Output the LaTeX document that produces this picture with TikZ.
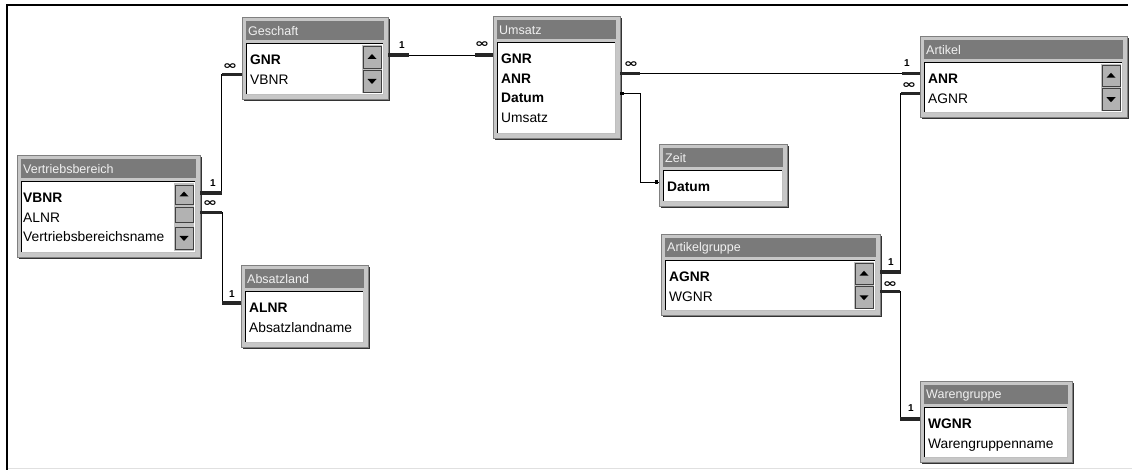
\documentclass[tikz,border=0pt]{standalone}
\usepackage{fontspec}
\usepackage{graphicx}
\setmainfont{Liberation Sans}
\newfontfamily\symfont{DejaVu Sans}
\usetikzlibrary{fit,calc}

\tikzset{
  tframe/.style={draw=black!50, fill=black!22, line width=0.8pt, inner sep=0pt},
  ttitle/.style={fill=black!52, inner sep=0pt},
  ttext/.style={text=black!6, font=\fontsize{12.5}{14}\selectfont, inner sep=0pt},
  tlist/.style={fill=white, inner sep=0pt},
  rowtxt/.style={font=\fontsize{13.8}{16}\selectfont, inner sep=0pt, anchor=base west},
  sbtrack/.style={fill=black!25, inner sep=0pt},
  sbbtn/.style={fill=black!30, draw=black!75, line width=0.8pt, inner sep=0pt},
  rel/.style={draw=black, line width=0.9pt},
  stub/.style={draw=black!85, line width=3.4pt},
  onelbl/.style={font=\fontsize{10}{11}\selectfont\bfseries, inner sep=0pt},
  manylbl/.style={font=\symfont\bfseries\fontsize{11.5}{12}\selectfont, inner sep=0pt},
  dotend/.style={fill=black, inner sep=0pt, minimum size=3.2pt},
}

% name, x0, y0, x1, y1, title
\newcommand{\dbtable}[6]{%
  \fill[black!80] ({#2+2},{#3+2}) rectangle ({#4+1.8},{#5+1.8});
  \node[tframe, fit={(#2,#3) (#4,#5)}] (#1) {};
  \node[ttitle, fit={({#2+4},{#3+4}) ({#4-4},{#3+23})}] (#1-t) {};
  \node[ttext, anchor=west] (#1-tt) at ({#2+6},{#3+14}) {#6};
  \node[tlist, fit={({#2+5},{#3+27}) ({#4-5},{#5-5})}] (#1-l) {};
  \draw[black, line width=1.3pt] (#1-l.south west) -- (#1-l.north west) -- (#1-l.north east);
  \draw[black!25, line width=0.8pt] (#1-l.north east) -- (#1-l.south east) -- (#1-l.south west);
}
% name, x0, y0, index, text
\newcommand{\dbrow}[5]{%
  \node[rowtxt] (#1) at ({#2+8},{#3+47.5+19.7*#4}) {#5};
  \coordinate (#1c) at ($(#1.base)+(0,-9.5)$);
}
% name, x1, ytop, ybot : two-button scroll bar
\newcommand{\sbtwo}[4]{%
  \node[sbtrack, fit={({#2-26},{#3+1}) ({#2-6},{#4-1})}] (#1) {};
  \node[sbbtn, fit={({#2-25},{#3+2}) ({#2-7},{(#3+#4)/2-1})}] (#1-u) {};
  \node[sbbtn, fit={({#2-25},{(#3+#4)/2+1}) ({#2-7},{#4-2})}] (#1-d) {};
  \fill ($(#1-u.center)+(-4.5,2)$) -- ++(9,0) -- ++(-4.5,-5) -- cycle;
  \fill ($(#1-d.center)+(-4.5,-2)$) -- ++(9,0) -- ++(-4.5,5) -- cycle;
}

\begin{document}
\begin{tikzpicture}[x=1pt,y=-1pt]
\useasboundingbox (0,0) rectangle (1132,470);

% window frame
\draw[black, line width=2.6pt] (7,470) -- (7,5) -- (1128,5);
\draw[black!12, line width=1pt] (8,468.5) -- (1132,468.5);

% ---------- tables ----------
\dbtable{gesch}{242}{17}{388}{99}{Geschaft}
\dbrow{g1}{242}{17}{0}{\textbf{GNR}}
\dbrow{g2}{242}{17}{1}{VBNR}
\sbtwo{gsb}{388}{44}{94}

\dbtable{vb}{17}{155}{200}{257}{Vertriebsbereich}
\dbrow{v1}{15}{155}{0}{\textbf{VBNR}}
\dbrow{v2}{15}{155}{1}{ALNR}
\dbrow{v3}{15}{155}{2}{Vertriebsbereichsname}
\node[sbtrack, fit={(174,183) (194,251)}] (vsb) {};
\node[sbbtn, fit={(175,185) (193,204)}] (vsb-u) {};
\node[sbbtn, fit={(175,207) (193,222)}] (vsb-m) {};
\node[sbbtn, fit={(175,227) (193,249)}] (vsb-d) {};
\fill ($(vsb-u.center)+(-4.5,2)$) -- ++(9,0) -- ++(-4.5,-5) -- cycle;
\fill ($(vsb-d.center)+(-4.5,-2)$) -- ++(9,0) -- ++(-4.5,5) -- cycle;

\dbtable{abs}{241}{265}{368}{347}{Absatzland}
\dbrow{a1}{241}{265}{0}{\textbf{ALNR}}
\dbrow{a2}{241}{265}{1}{Absatzlandname}

\dbtable{ums}{493}{16}{620}{138}{Umsatz}
\dbrow{u1}{493}{16}{0}{\textbf{GNR}}
\dbrow{u2}{493}{16}{1}{\textbf{ANR}}
\dbrow{u3}{493}{16}{2}{\textbf{Datum}}
\dbrow{u4}{493}{16}{3}{Umsatz}

\dbtable{zeit}{659}{144}{787}{206}{Zeit}
\dbrow{z1}{659}{144}{0}{\textbf{Datum}}

\dbtable{art}{920}{36}{1127}{117}{Artikel}
\dbrow{r1}{920}{36}{0}{\textbf{ANR}}
\dbrow{r2}{920}{36}{1}{AGNR}
\sbtwo{asb}{1127}{63}{112}

\dbtable{ag}{661}{234}{880}{315}{Artikelgruppe}
\dbrow{ag1}{661}{234}{0}{\textbf{AGNR}}
\dbrow{ag2}{661}{234}{1}{WGNR}
\sbtwo{agsb}{880}{261}{310}

\dbtable{wg}{920}{381}{1072}{462}{Warengruppe}
\dbrow{w1}{920}{381}{0}{\textbf{WGNR}}
\dbrow{w2}{920}{381}{1}{Warengruppenname}

% ---------- relationships ----------
% Geschaft -- Umsatz
\draw[rel] (gesch.east |- g1c) -- (ums.west |- g1c);
\draw[stub] (gesch.east |- g1c) -- ++(21,0);
\draw[stub] (ums.west |- g1c) -- ++(-18,0);
\node[onelbl] (lab1) at (402,45) {1};
\node[manylbl] (lab2) at (482,45) {\scalebox{1.5}[1]{∞}};

% Geschaft -- Vertriebsbereich
\draw[rel] (gesch.west |- g2c) -- ++(-20,0) |- (vb.east |- v1c);
\draw[stub] (gesch.west |- g2c) -- ++(-20,0);
\draw[stub] (vb.east |- v1c) -- ++(22,0);
\node[manylbl] (lab3) at (230,67) {\scalebox{1.5}[1]{∞}};
\node[onelbl] (lab4) at (213,183) {1};

% Vertriebsbereich -- Absatzland
\draw[rel] (vb.east |- v2c) -- ++(22,0) |- (abs.west |- a1c);
\draw[stub] (vb.east |- v2c) -- ++(22,0);
\draw[stub] (abs.west |- a1c) -- ++(-19,0);
\node[manylbl] (lab5) at (210,204) {\scalebox{1.5}[1]{∞}};
\node[onelbl] (lab6) at (232,294) {1};

% Umsatz -- Artikel
\draw[rel] (ums.east |- u2c) -- (art.west |- u2c);
\draw[stub] (ums.east |- u2c) -- ++(20,0);
\draw[stub] (art.west |- u2c) -- ++(-18,0);
\node[manylbl] (lab7) at (631,65) {\scalebox{1.5}[1]{∞}};
\node[onelbl] (lab8) at (907,63) {1};

% Umsatz -- Zeit
\draw[rel, line width=0.8pt] (ums.east |- u3c) -- ++(20,0) |- (zeit.west |- z1c);
\node[dotend] (d1) at ($(ums.east |- u3c)+(1.5,0)$) {};
\node[dotend] (d2) at ($(zeit.west |- z1c)+(-2,0)$) {};

% Artikel -- Artikelgruppe
\draw[rel] (art.west |- r2c) -- ++(-19,0) |- (ag.east |- ag1c);
\draw[stub] (art.west |- r2c) -- ++(-19,0);
\draw[stub] (ag.east |- ag1c) -- ++(21,0);
\node[manylbl] (lab9) at (909,86) {\scalebox{1.5}[1]{∞}};
\node[onelbl] (lab10) at (891,262) {1};

% Artikelgruppe -- Warengruppe
\draw[rel] (ag.east |- ag2c) -- ++(20,0) |- (wg.west |- w1c);
\draw[stub] (ag.east |- ag2c) -- ++(20,0);
\draw[stub] (wg.west |- w1c) -- ++(-20,0);
\node[manylbl] (lab11) at (890,285) {\scalebox{1.5}[1]{∞}};
\node[onelbl] (lab12) at (911,408) {1};

\end{tikzpicture}
\end{document}
